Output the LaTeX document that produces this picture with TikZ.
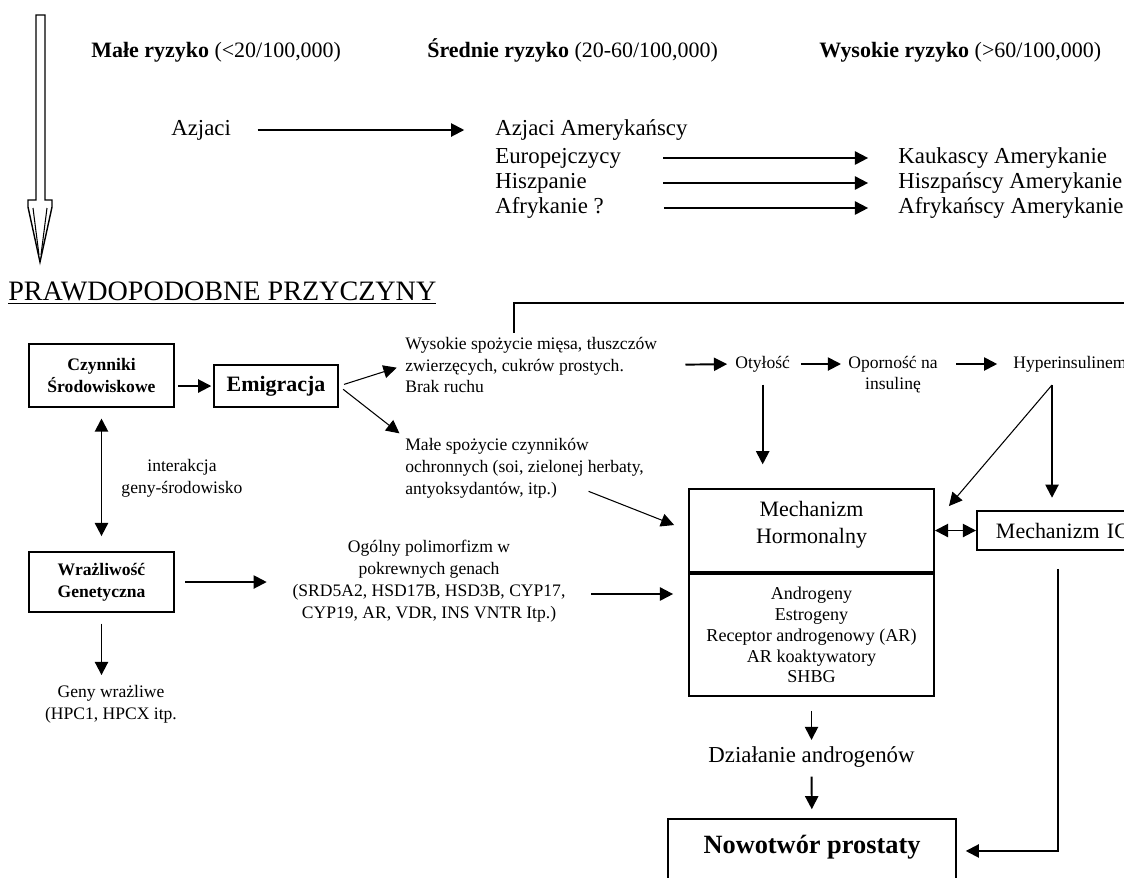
\documentclass[tikz,border=0pt]{standalone}
\usepackage{fontspec}
\setmainfont{Liberation Serif}
\usetikzlibrary{arrows.meta,positioning}

\tikzset{
  lbl/.style={inner sep=0pt, font=\fontsize{10}{12.5}\selectfont},
  lblbig/.style={inner sep=0pt, text height=9pt, text depth=3pt, font=\fontsize{13}{15}\selectfont},
  head/.style={inner sep=0pt, text height=9pt, text depth=3pt, font=\fontsize{12.5}{15}\selectfont},
  box/.style={draw, line width=1.1pt, inner sep=0pt},
  arr/.style={line width=1.1pt, -{Triangle[length=7.5pt,width=7.5pt]}},
  thinarr/.style={line width=0.6pt, -{Triangle[length=7.5pt,width=7.5pt]}},
  dblarr/.style={line width=1.1pt, {Triangle[length=7.5pt,width=7.5pt]}-{Triangle[length=7.5pt,width=7.5pt]}},
}

\begin{document}
\begin{tikzpicture}[x=0.02cm, y=-0.02cm]
\useasboundingbox (0,0) rectangle (1124,877);
\clip (0,0) rectangle (1124,877);

% hollow arrow
\draw[line width=0.8pt] (36,15) -- (45,15) -- (45,200) -- (52,200) -- (52,207) -- (40,262)
  -- (28,207) -- (28,200) -- (36,200) -- cycle;
\draw[line width=0.6pt] (33,208) -- (39,255) (47,208) -- (41,255);

\node[head, anchor=west] (low) at (91,52) {\textbf{Małe ryzyko} (<20/100,000)};
\node[head, anchor=west] (mid) at (427,52) {\textbf{Średnie ryzyko} (20-60/100,000)};
\node[head, anchor=west] (high) at (819,52) {\textbf{Wysokie ryzyko} (>60/100,000)};

\node[lblbig, anchor=west] (azj) at (171,130) {Azjaci};
\node[lblbig, anchor=west] (azjam) at (495,130) {Azjaci Amerykańscy};
\node[lblbig, anchor=west] (eur) at (495,158) {Europejczycy};
\node[lblbig, anchor=west] (hisz) at (495,183) {Hiszpanie};
\node[lblbig, anchor=west] (afr) at (495,208) {Afrykanie ?};
\node[lblbig, anchor=west] (kauk) at (898,158) {Kaukascy Amerykanie};
\node[lblbig, anchor=west] (hiszam) at (898,183) {Hiszpańscy Amerykanie};
\node[lblbig, anchor=west] (afram) at (898,208) {Afrykańscy Amerykanie};

\draw[arr, shorten <=15pt, shorten >=17.5pt] (azj) -- (azjam);
\draw[arr, shorten <=24pt, shorten >=17pt] (eur) -- (kauk);
\draw[arr, shorten <=43.5pt, shorten >=17pt] (hisz) -- (hiszam);
\draw[arr, shorten <=34pt, shorten >=17pt] (afr) -- (afram);

\node[inner sep=0pt, anchor=base west, font=\fontsize{16}{18}\selectfont] (title) at (8,300)
  {\underline{PRAWDOPODOBNE PRZYCZYNY}};

% causes
\node[box, minimum width=2.9cm, minimum height=1.26cm, align=center,
  font=\bfseries\fontsize{10}{12.5}\selectfont] (czyn) at (101.5,375.5) {Czynniki\\Środowiskowe};
\node[box, minimum width=2.48cm, minimum height=0.84cm,
  font=\bfseries\fontsize{12.5}{15}\selectfont] (emig) at (276,386) {Emigracja};
\node[box, minimum width=2.9cm, minimum height=1.2cm, align=center,
  font=\bfseries\fontsize{10}{12.5}\selectfont] (wraz) at (101.5,582) {Wrażliwość\\Genetyczna};

\node[lbl, align=center] (inter) at (182,478) {interakcja\\geny-środowisko};
\node[lbl, align=left, anchor=west] (wys) at (405,365)
  {Wysokie spożycie mięsa, tłuszczów\\zwierzęcych, cukrów prostych.\\Brak ruchu};
\node[lbl, align=left, anchor=west] (male) at (405,468)
  {Małe spożycie czynników\\ochronnych (soi, zielonej herbaty,\\antyoksydantów, itp.)};
\node[lbl, align=center] (ogol) at (429,581)
  {Ogólny polimorfizm w\\pokrewnych genach\\(SRD5A2, HSD17B, HSD3B, CYP17,\\CYP19, AR, VDR, INS VNTR Itp.)};
\node[lbl, align=center] (geny) at (111,704) {Geny wrażliwe\\(HPC1, HPCX itp.};

\node[lbl, anchor=west] (oty) at (735,364) {Otyłość};
\node[lbl, align=center, font=\fontsize{10}{12}\selectfont] (opor) at (893,375) {Oporność na\\insulinę};
\node[lbl, anchor=west] (hyper) at (1013,364) {Hyperinsulinemia};
\coordinate (hyp) at (1052,385);

% mechanisms
\node[box, minimum width=4.9cm, minimum height=1.66cm, align=center, text depth=9pt,
  font=\fontsize{12.5}{15.3}\selectfont] (mechup) at (811.5,530.5) {Mechanizm\\Hormonalny};
\node[box, minimum width=4.9cm, minimum height=2.44cm, align=center,
  font=\fontsize{10.3}{11.9}\selectfont, below=0pt of mechup] (mechlow)
  {Androgeny\\Estrogeny\\Receptor androgenowy (AR)\\AR koaktywatory\\SHBG};
\node[box, anchor=west, minimum height=0.78cm, text width=3.6cm, inner xsep=0.38cm,
  font=\fontsize{12.5}{15}\selectfont] (igf) at (976,530.5) {Mechanizm IGF};
\node[lblbig] (dzial) at (811.5,757) {Działanie androgenów};
\node[box, anchor=north, minimum width=5.76cm, minimum height=1.28cm, text depth=7pt,
  font=\bfseries\fontsize{15}{18}\selectfont] (nowo) at (812,818) {Nowotwór prostaty};

\coordinate (offright) at (1150,303);
\draw[line width=1.1pt, shorten <=2pt] ([shift={(-17,0)}]wys.north) |- (offright);

\draw[arr, shorten <=2pt, shorten >=1pt] (czyn.east |- emig.west) -- (emig.west);
\draw[thinarr, shorten <=3pt, shorten >=5pt] (emig.east) -- (wys.west);
\draw[thinarr, shorten <=3pt, shorten >=4pt] (emig.east) -- (male.north west);
\draw[dblarr, shorten <=6pt, shorten >=8.5pt] (czyn) -- (wraz);
\draw[arr, shorten <=6pt, shorten >=14.5pt] (wraz.east) -- (wraz.east -| ogol.west);
\draw[arr, shorten <=6pt, shorten >=5.5pt] (wraz) -- (wraz |- geny.north);

\coordinate (ogolout) at ([shift={(0,13)}]ogol.east);
\draw[arr, shorten <=14.5pt, shorten >=8.5pt] (ogolout) -- (ogolout -| mechlow.west);
\draw[thinarr, shorten >=8.5pt] ([shift={(64,-7)}]male.south) -- (mechup.west);

\draw[arr, shorten <=16pt, shorten >=4.5pt] (wys.east) -- (oty.west);
\draw[arr, shorten <=6pt, shorten >=4pt] (oty.east) -- (oty.east -| opor.west);
\draw[arr, shorten <=10.5pt, shorten >=9pt] (hyper.west -| opor.east) -- (hyper.west);
\draw[arr, shorten <=7pt, shorten >=13.5pt] (oty.south) -- (oty.south |- mechup.north);
\draw[thinarr] (hyp) -- ([shift={(14,18)}]mechup.north east);
\draw[arr, shorten >=7pt] (hyp) -- (hyp |- igf.north);
\draw[dblarr] (mechup) -- (igf);

\draw[arr, shorten <=8pt, shorten >=3.5pt] (mechlow) -- (dzial);
\draw[arr, shorten <=5pt, shorten >=5pt] (dzial) -- (nowo);
\coordinate (igfout) at ([shift={(82,18)}]igf.south west);
\draw[arr, shorten >=5pt] (igfout) |- (nowo.east);

\end{tikzpicture}
\end{document}
